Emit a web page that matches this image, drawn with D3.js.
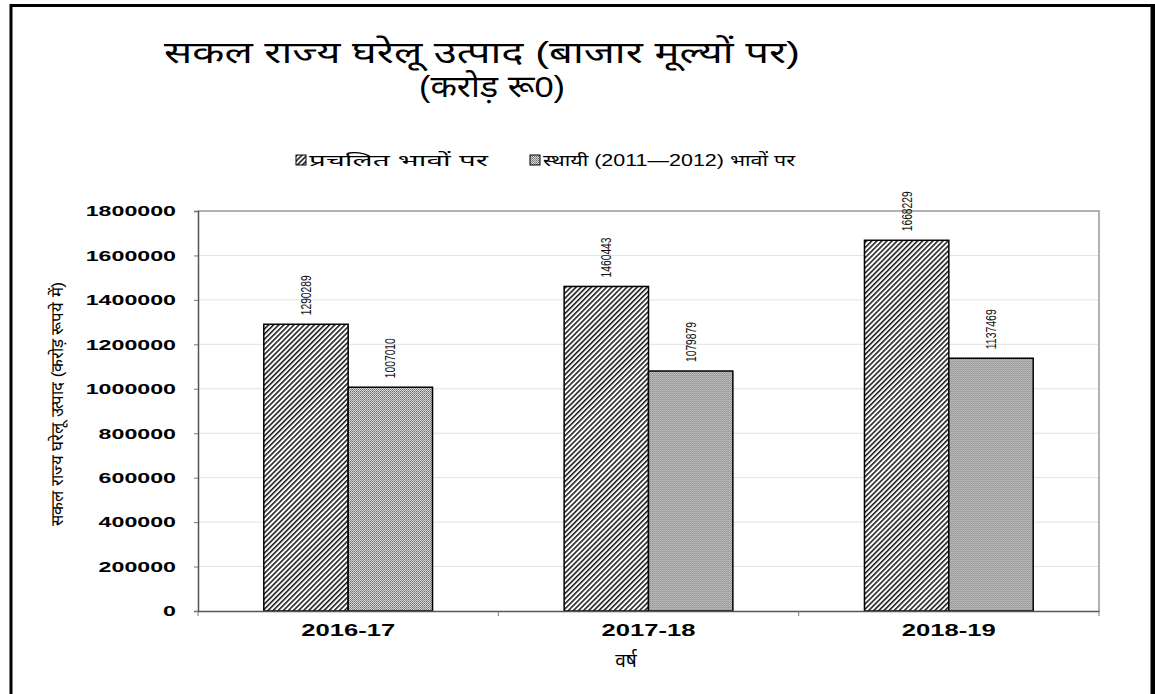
<!DOCTYPE html>
<html>
<head>
<meta charset="utf-8">
<script src="https://cdn.jsdelivr.net/npm/d3@7"></script>
<style>
  body { margin: 0; background: #fff; }
  text { font-family: "Liberation Sans", Arial, "Noto Sans", sans-serif; }
  .narrow { font-family: "Liberation Sans Narrow", "Arial Narrow", "Liberation Sans", sans-serif; }
</style>
</head>
<body>
<div id="chart"></div>
<script>
// chart data
const years = ["2016-17", "2017-18", "2018-19"];
const seriesNames = ["प्रचलित भावों पर", "स्थायी (2011—2012) भावों पर"];
const currentPrices = [1290289, 1460443, 1668229];
const constantPrices = [1007010, 1079879, 1137469];
const yTicks = [0, 200000, 400000, 600000, 800000, 1000000, 1200000, 1400000, 1600000, 1800000];

const svgWidth = 1155;
const svgHeight = 694;
const margin = { top: 211, right: 56, bottom: 83, left: 198 };
const width = svgWidth - margin.left - margin.right;
const height = svgHeight - margin.top - margin.bottom;

const svg = d3.select("#chart")
  .append("svg")
  .attr("width", svgWidth)
  .attr("height", svgHeight);

// fill patterns
const defs = svg.append("defs");
const hatch = defs.append("pattern")
  .attr("id", "hatch")
  .attr("patternUnits", "userSpaceOnUse")
  .attr("width", 3.6)
  .attr("height", 3.6)
  .attr("patternTransform", "rotate(45)");
hatch.append("rect").attr("width", 3.6).attr("height", 3.6).attr("fill", "#fff");
hatch.append("line")
  .attr("x1", 0.8).attr("y1", 0).attr("x2", 0.8).attr("y2", 3.6)
  .attr("stroke", "#000").attr("stroke-width", 1.4);

const dots = defs.append("pattern")
  .attr("id", "dots")
  .attr("patternUnits", "userSpaceOnUse")
  .attr("width", 2)
  .attr("height", 2);
dots.append("rect").attr("width", 2).attr("height", 2).attr("fill", "#d8d8d8");
dots.append("rect").attr("x", 0).attr("y", 0).attr("width", 1).attr("height", 1).attr("fill", "#6e6e6e");
dots.append("rect").attr("x", 1).attr("y", 1).attr("width", 1).attr("height", 1).attr("fill", "#8c8c8c");

const fills = ["url(#hatch)", "url(#dots)"];

// outer frame
svg.append("path")
  .attr("d", "M11,700 V5.5 H1152 V700")
  .attr("fill", "none")
  .attr("stroke", "#000")
  .attr("stroke-width", 3);
svg.append("line")
  .attr("x1", 1153).attr("x2", 1153).attr("y1", 4).attr("y2", 700)
  .attr("stroke", "#000").attr("stroke-width", 4);

// stretch a text element to a given width
function fit(sel, w) {
  sel.attr("textLength", w).attr("lengthAdjust", "spacingAndGlyphs");
}

// title
const title = svg.append("g");
title.append("text")
  .attr("x", 482).attr("y", 63)
  .attr("text-anchor", "middle")
  .attr("font-size", 30)
  .text("सकल राज्य घरेलू उत्पाद (बाजार मूल्यों पर)")
  .call(fit, 636);
title.append("text")
  .attr("x", 492).attr("y", 97)
  .attr("text-anchor", "middle")
  .attr("font-size", 30)
  .text("(करोड़ रू0)")
  .call(fit, 146);

const chartGroup = svg.append("g")
  .attr("transform", `translate(${margin.left}, ${margin.top})`);

// scales
const x0 = d3.scaleBand().domain(years).range([0, width]).padding(0);
const x1 = d3.scaleBand().domain([0, 1]).range([0, x0.bandwidth()])
  .paddingInner(0).paddingOuter(0.78);
const y = d3.scaleLinear().domain([0, 1800000]).range([height, 0]);

// gridlines
chartGroup.append("g")
  .selectAll("line")
  .data(yTicks.slice(1, -1))
  .join("line")
  .attr("x1", 0).attr("x2", width)
  .attr("y1", d => y(d)).attr("y2", d => y(d))
  .attr("stroke", "#e2e2e2");

// plot border top & right
chartGroup.append("path")
  .attr("d", `M0,0 H${width} V${height}`)
  .attr("fill", "none")
  .attr("stroke", "#999")
  .attr("stroke-width", 1.5);

// bars
const data = years.map((yr, i) => ({ year: yr, values: [currentPrices[i], constantPrices[i]] }));
const groups = chartGroup.selectAll("g.year")
  .data(data)
  .join("g")
  .attr("class", "year")
  .attr("transform", d => `translate(${x0(d.year)},0)`);

groups.selectAll("rect")
  .data(d => d.values.map((v, s) => ({ s, v })))
  .join("rect")
  .attr("x", d => x1(d.s))
  .attr("y", d => y(d.v))
  .attr("width", x1.bandwidth())
  .attr("height", d => height - y(d.v))
  .attr("fill", d => fills[d.s])
  .attr("stroke", "#000")
  .attr("stroke-width", 1.5);

// value labels (rotated)
groups.selectAll("text.val")
  .data(d => d.values.map((v, s) => ({ s, v })))
  .join("text")
  .attr("class", "val narrow")
  .attr("transform", d => `translate(${x1(d.s) + x1.bandwidth() / 2 + 5},${y(d.v) - 9}) rotate(-90)`)
  .attr("font-size", 14)
  .attr("fill", "#111")
  .text(d => d.v)
  .call(fit, 40);

// axes
const leftAxis = d3.axisLeft(y).tickValues(yTicks).tickSize(4).tickPadding(18).tickFormat(d3.format("d"));
const bottomAxis = d3.axisBottom(x0).tickSize(0).tickPadding(14);

const yAxisG = chartGroup.append("g").call(leftAxis);
yAxisG.select(".domain").attr("stroke", "#555").attr("stroke-width", 1.5);
yAxisG.selectAll(".tick line").attr("stroke", "#777");
yAxisG.selectAll(".tick text")
  .attr("font-size", 15)
  .attr("font-weight", "bold")
  .attr("fill", "#000")
  .each(function (d) {
    const n = String(d).length;
    d3.select(this).call(fit, n * 12.9);
  });

const xAxisG = chartGroup.append("g")
  .attr("transform", `translate(0, ${height})`)
  .call(bottomAxis);
xAxisG.select(".domain").attr("stroke", "#555").attr("stroke-width", 1.5);
xAxisG.selectAll(".tick text")
  .attr("font-size", 16)
  .attr("font-weight", "bold")
  .attr("fill", "#000")
  .call(fit, 94);

// category separators on x axis
chartGroup.append("g")
  .selectAll("line")
  .data(years.concat(["end"]))
  .join("line")
  .attr("x1", (d, i) => i * x0.step()).attr("x2", (d, i) => i * x0.step())
  .attr("y1", height).attr("y2", height + 5)
  .attr("stroke", "#777");

// axis titles
svg.append("text")
  .attr("class", "narrow")
  .attr("transform", "translate(63, 404) rotate(-90)")
  .attr("text-anchor", "middle")
  .attr("font-size", 17)
  .text("सकल राज्य घरेलू उत्पाद (करोड़ रूपये में)")
  .call(fit, 244);

svg.append("text")
  .attr("x", 626).attr("y", 667)
  .attr("text-anchor", "middle")
  .attr("font-size", 19)
  .text("वर्ष");

// legend
const legendX = [296, 530];
const legendW = [192, 265];
const legend = svg.append("g").selectAll("g")
  .data(seriesNames)
  .join("g")
  .attr("transform", (d, i) => `translate(${legendX[i]}, 160)`);
legend.append("rect")
  .attr("x", 0).attr("y", -5)
  .attr("width", 10).attr("height", 10)
  .attr("fill", (d, i) => fills[i])
  .attr("stroke", "#000");
legend.append("text")
  .attr("x", 13).attr("y", 6)
  .attr("font-size", 16)
  .text(d => d)
  .each(function (d, i) {
    d3.select(this).call(fit, legendW[i] - 13);
  });
</script>
</body>
</html>
